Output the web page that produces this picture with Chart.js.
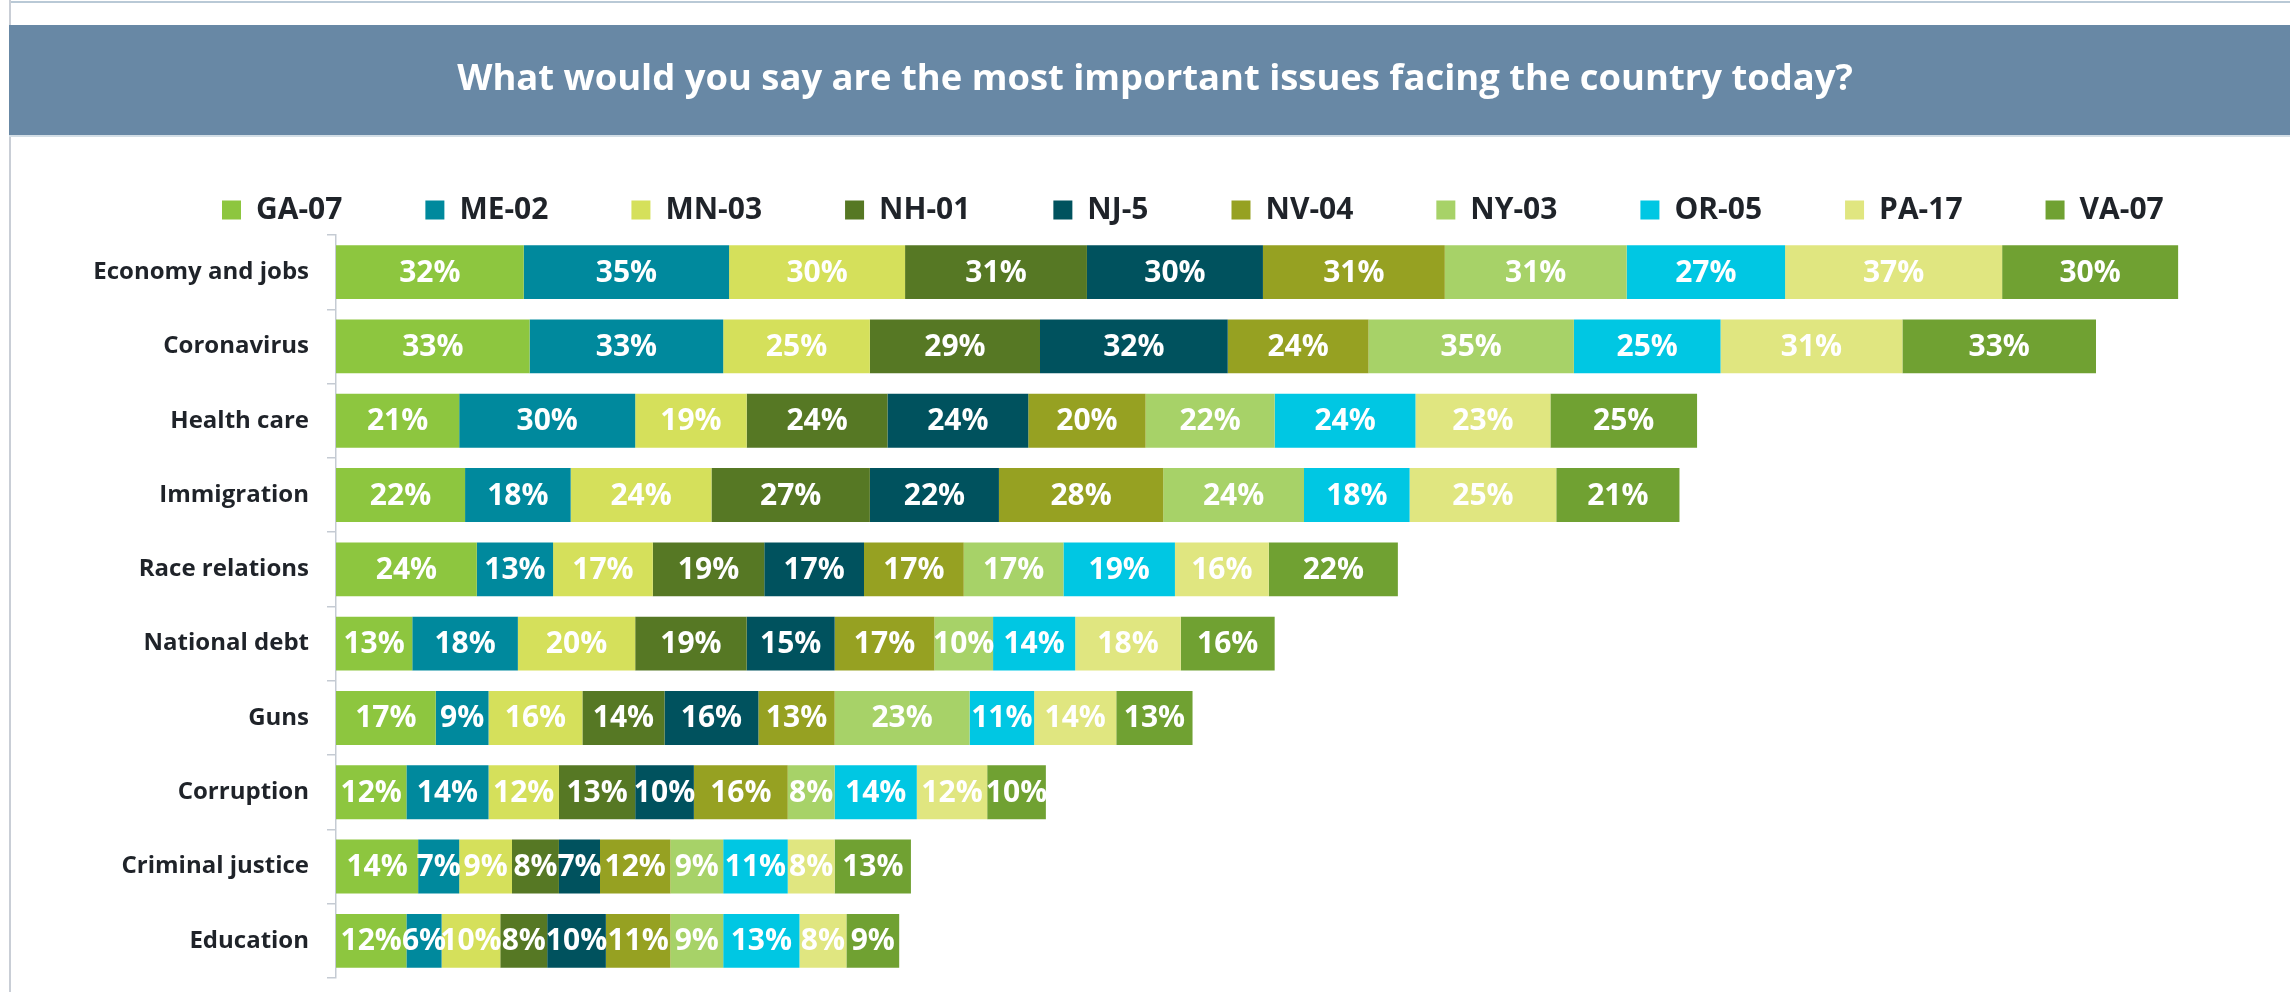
<!DOCTYPE html>
<html>
<head>
<meta charset="utf-8">
<script src="https://cdn.jsdelivr.net/npm/chart.js@4"></script>
<style>
  html, body { margin: 0; padding: 0; background: #fff; }
  canvas { display: block; }
</style>
</head>
<body>
<canvas id="chart" width="2290" height="992"></canvas>
<script>
const categories = ['Economy and jobs', 'Coronavirus', 'Health care', 'Immigration', 'Race relations',
    'National debt', 'Guns', 'Corruption', 'Criminal justice', 'Education'];

const districts = ['GA-07', 'ME-02', 'MN-03', 'NH-01', 'NJ-5', 'NV-04', 'NY-03', 'OR-05', 'PA-17', 'VA-07'];
const colors = ['#8DC63F', '#00899D', '#D5E05B', '#567824', '#00525E', '#96A122', '#A7D268', '#00C7E3', '#E0E680', '#70A132'];

const ga07 = [32, 33, 21, 22, 24, 13, 17, 12, 14, 12];
const me02 = [35, 33, 30, 18, 13, 18, 9, 14, 7, 6];
const mn03 = [30, 25, 19, 24, 17, 20, 16, 12, 9, 10];
const nh01 = [31, 29, 24, 27, 19, 19, 14, 13, 8, 8];
const nj5 = [30, 32, 24, 22, 17, 15, 16, 10, 7, 10];
const nv04 = [31, 24, 20, 28, 17, 17, 13, 16, 12, 11];
const ny03 = [31, 35, 22, 24, 17, 10, 23, 8, 9, 9];
const or05 = [27, 25, 24, 18, 19, 14, 11, 14, 11, 13];
const pa17 = [37, 31, 23, 25, 16, 18, 14, 12, 8, 8];
const va07 = [30, 33, 25, 21, 22, 16, 13, 10, 13, 9];

const seriesValues = [ga07, me02, mn03, nh01, nj5, nv04, ny03, or05, pa17, va07];

const titleText = 'What would you say are the most important issues facing the country today?';
const fontFamily = '"Open Sans", "Noto Sans", sans-serif';

// background frame + title banner
const slideFrame = {
    id: 'slideFrame',
    beforeDraw(chart) {
        const ctx = chart.ctx;
        ctx.save();
        ctx.fillStyle = '#ffffff';
        ctx.fillRect(0, 0, chart.width, chart.height);
        ctx.fillStyle = '#B9C9D6';
        ctx.fillRect(9, 1, chart.width - 9, 2);
        ctx.fillStyle = '#C9CED6';
        ctx.fillRect(9, 0, 2, chart.height);
        ctx.fillStyle = '#6888A5';
        ctx.fillRect(9, 25, chart.width - 9, 110);
        ctx.fillStyle = '#D3DEE6';
        ctx.fillRect(9, 135, chart.width - 9, 2);
        ctx.restore();
    },
    afterLayout(chart) {
        // legend sits a bit right of centre in the original
        const lg = chart.legend;
        const pad = lg.options.labels.padding;
        const firstX = (lg.left + pad + lg.right - lg.lineWidths[0]) / 2;
        const dx = 222 - firstX;
        lg.left += dx;
        lg.right += dx;
        // title is centred on the banner, not the canvas
        chart.titleBlock.left += 19;
        chart.titleBlock.right += 19;
    }
};

const valueLabels = {
    id: 'valueLabels',
    afterDatasetsDraw(chart) {
        const ctx = chart.ctx;
        ctx.save();
        ctx.font = 'bold 30px ' + fontFamily;
        ctx.fillStyle = '#ffffff';
        ctx.textAlign = 'center';
        ctx.textBaseline = 'middle';
        chart.data.datasets.forEach((ds, i) => {
            const meta = chart.getDatasetMeta(i);
            meta.data.forEach((bar, j) => {
                const cx = (bar.x + bar.base) / 2;
                ctx.fillText(ds.data[j] + '%', cx, bar.y + 1);
            });
        });
        ctx.restore();
    }
};

const chart = new Chart('chart', {
    type: 'bar',
    data: {
        labels: categories,
        datasets: districts.map((d, i) => ({
            label: d,
            data: seriesValues[i],
            backgroundColor: colors[i],
            borderWidth: 0,
            barPercentage: 0.725,
            categoryPercentage: 1
        }))
    },
    options: {
        indexAxis: 'y',
        responsive: false,
        animation: false,
        layout: { padding: { top: 0, left: 0, right: 18, bottom: 14 } },
        scales: {
            x: {
                stacked: true,
                min: 0,
                max: 330,
                display: false
            },
            y: {
                stacked: true,
                afterFit(scale) {
                    scale.width = 336;
                    scale.paddingTop = 0;
                    scale.paddingBottom = 0;
                },
                grid: {
                    drawOnChartArea: false,
                    drawTicks: true,
                    tickLength: 9,
                    color: '#C5CBD3',
                    lineWidth: 1.5
                },
                border: { color: '#C5CBD3', width: 1.5 },
                ticks: {
                    padding: 18,
                    color: '#1F2329',
                    font: { family: fontFamily, size: 24, weight: 'bold' }
                }
            }
        },
        plugins: {
            tooltip: { enabled: false },
            title: {
                display: true,
                text: titleText,
                color: '#ffffff',
                font: { family: fontFamily, size: 36.4, weight: 'bold', lineHeight: 1.2 },
                padding: { top: 58.2, bottom: 10.1 }
            },
            legend: {
                display: true,
                position: 'top',
                labels: {
                    boxWidth: 19,
                    boxHeight: 19,
                    padding: 83,
                    color: '#1F2329',
                    font: { family: fontFamily, size: 30, weight: 'bold' }
                }
            }
        }
    },
    plugins: [slideFrame, valueLabels]
});
</script>
</body>
</html>
